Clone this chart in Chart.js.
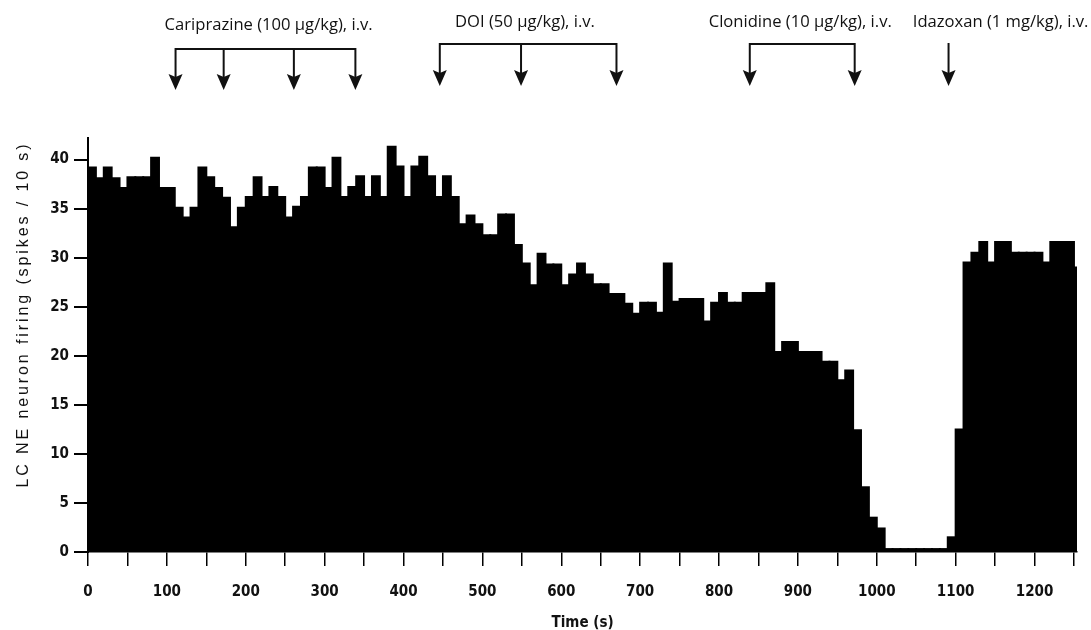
<!DOCTYPE html>
<html>
<head>
<meta charset="utf-8">
<script src="https://cdn.jsdelivr.net/npm/chart.js@4.4.1/dist/chart.umd.min.js"></script>
<style>
    html, body { margin: 0; padding: 0; background: #fff; }
    #wrap { width: 1091px; height: 630px; position: relative; }
</style>
</head>
<body>
<div id="wrap"><canvas id="firingChart"></canvas></div>
<script>
// spikes per 10 s bin, starting at t = 0
const binWidth = 10;
const firing = [
    39.3, 38.2, 39.3, 38.2, 37.2, 38.3, 38.3, 38.3, 40.3, 37.2,
    37.2, 35.2, 34.2, 35.2, 39.3, 38.3, 37.2, 36.2, 33.2, 35.2,
    36.3, 38.3, 36.3, 37.3, 36.3, 34.2, 35.3, 36.3, 39.3, 39.3,
    37.2, 40.3, 36.3, 37.3, 38.4, 36.3, 38.4, 36.3, 41.4, 39.4,
    36.3, 39.4, 40.4, 38.4, 36.3, 38.4, 36.3, 33.5, 34.4, 33.5,
    32.4, 32.4, 34.5, 34.5, 31.4, 29.5, 27.3, 30.5, 29.4, 29.4,
    27.3, 28.4, 29.5, 28.4, 27.4, 27.4, 26.4, 26.4, 25.4, 24.4,
    25.5, 25.5, 24.5, 29.5, 25.6, 25.9, 25.9, 25.9, 23.6, 25.5,
    26.5, 25.5, 25.5, 26.5, 26.5, 26.5, 27.5, 20.5, 21.5, 21.5,
    20.5, 20.5, 20.5, 19.5, 19.5, 17.6, 18.6, 12.5, 6.7, 3.6,
    2.5, 0.4, 0.4, 0.4, 0.4, 0.4, 0.4, 0.4, 0.4, 1.6,
    12.6, 29.6, 30.6, 31.7, 29.6, 31.7, 31.7, 30.6, 30.6, 30.6,
    30.6, 29.6, 31.7, 31.7, 31.7, 29.1
];

const timeTicks = [0, 50, 100, 150, 200, 250, 300, 350, 400, 450, 500, 550, 600,
    650, 700, 750, 800, 850, 900, 950, 1000, 1050, 1100, 1150, 1200, 1250];
const firingTicks = [0, 5, 10, 15, 20, 25, 30, 35, 40];

// drug injections (s)
const drugs = ["Cariprazine (100 µg/kg), i.v.", "DOI (50 µg/kg), i.v.",
    "Clonidine (10 µg/kg), i.v.", "Idazoxan (1 mg/kg), i.v."];
const injections = [[111, 172, 261, 339], [446, 549, 670], [839, 972], [1091]];
const labelAt = [229, 554, 903, 1157];

const yTitle = "LC NE neuron firing (spikes / 10 s)";

const points = firing.map((v, i) => ({ x: i * binWidth + binWidth / 2, y: v }));

const narrow = "'Liberation Sans Narrow', 'DejaVu Sans Condensed', Arial, sans-serif";

// arrows above the plot + spaced-out y title
const extras = {
    id: "extras",
    afterDraw(chart) {
        const ctx = chart.ctx;
        const x = chart.scales.x;
        ctx.save();
        ctx.strokeStyle = "#111";
        ctx.fillStyle = "#111";
        ctx.lineWidth = 2;
        drugs.forEach((name, g) => {
            const first = g === 0;
            const textY = first ? 25 : 22;
            const barY = first ? 49 : 44;
            const tipY = first ? 90 : 86;
            ctx.font = "16.6px 'Open Sans', sans-serif";
            ctx.textAlign = "center";
            ctx.textBaseline = "middle";
            ctx.fillText(name, x.getPixelForValue(labelAt[g]), textY);

            const px = injections[g].map(t => x.getPixelForValue(t));
            if (px.length > 1) {
                ctx.beginPath();
                ctx.moveTo(px[0], barY);
                ctx.lineTo(px[px.length - 1], barY);
                ctx.stroke();
            }
            px.forEach(p => {
                ctx.beginPath();
                ctx.moveTo(p, barY - 1);
                ctx.lineTo(p, tipY - 10);
                ctx.stroke();
                ctx.beginPath();
                ctx.moveTo(p - 7, tipY - 16);
                ctx.lineTo(p, tipY - 13);
                ctx.lineTo(p + 7, tipY - 16);
                ctx.lineTo(p, tipY);
                ctx.closePath();
                ctx.fill();
            });
        });

        // y title, letters spread like the scanned original
        ctx.font = "16px 'Liberation Sans', Arial, sans-serif";
        ctx.textAlign = "left";
        ctx.textBaseline = "alphabetic";
        ctx.translate(28, 0);
        ctx.rotate(-Math.PI / 2);
        const gap = 2.9;
        const w = [...yTitle].reduce((s, c) => s + ctx.measureText(c).width, 0) + gap * (yTitle.length - 1);
        let pos = -316 - w / 2;
        for (const c of yTitle) {
            ctx.fillText(c, pos, 0);
            pos += ctx.measureText(c).width + gap;
        }
        ctx.restore();
    }
};

new Chart(document.getElementById("firingChart"), {
    type: "bar",
    data: {
        datasets: [{
            label: "LC NE firing",
            data: points,
            backgroundColor: "#000",
            borderWidth: 0,
            barPercentage: 1.25,
            categoryPercentage: 1
        }]
    },
    options: {
        responsive: true,
        maintainAspectRatio: false,
        animation: false,
        layout: { padding: { top: 138, right: 11, bottom: 0, left: 0 } },
        plugins: {
            legend: { display: false },
            tooltip: { enabled: false }
        },
        scales: {
            x: {
                type: "linear",
                offset: false,
                min: 0,
                max: 1254,
                afterBuildTicks: s => { s.ticks = timeTicks.map(v => ({ value: v })); },
                afterFit: s => { s.height = 78; },
                ticks: {
                    autoSkip: false,
                    maxRotation: 0,
                    padding: 17,
                    color: "#111",
                    font: { family: narrow, size: 15, weight: "bold" },
                    callback: v => (v % 100 === 0 ? v : "")
                },
                grid: { offset: false, drawOnChartArea: false, tickLength: 14, color: "#000", lineWidth: 1.5 },
                border: { display: true, color: "#000", width: 1.5 },
                title: {
                    display: true,
                    text: "Time (s)",
                    color: "#111",
                    font: { family: narrow, size: 15, weight: "bold" },
                    padding: { top: 0, bottom: -2 }
                }
            },
            y: {
                min: 0,
                max: 42.2,
                afterBuildTicks: s => { s.ticks = firingTicks.map(v => ({ value: v })); },
                afterFit: s => { s.width = 88; },
                ticks: {
                    padding: 5,
                    color: "#111",
                    font: { family: narrow, size: 15, weight: "bold" }
                },
                grid: { drawOnChartArea: false, tickLength: 14, color: "#000", lineWidth: 2 },
                border: { display: true, color: "#000", width: 2 }
            }
        }
    },
    plugins: [extras]
});
</script>
</body>
</html>
